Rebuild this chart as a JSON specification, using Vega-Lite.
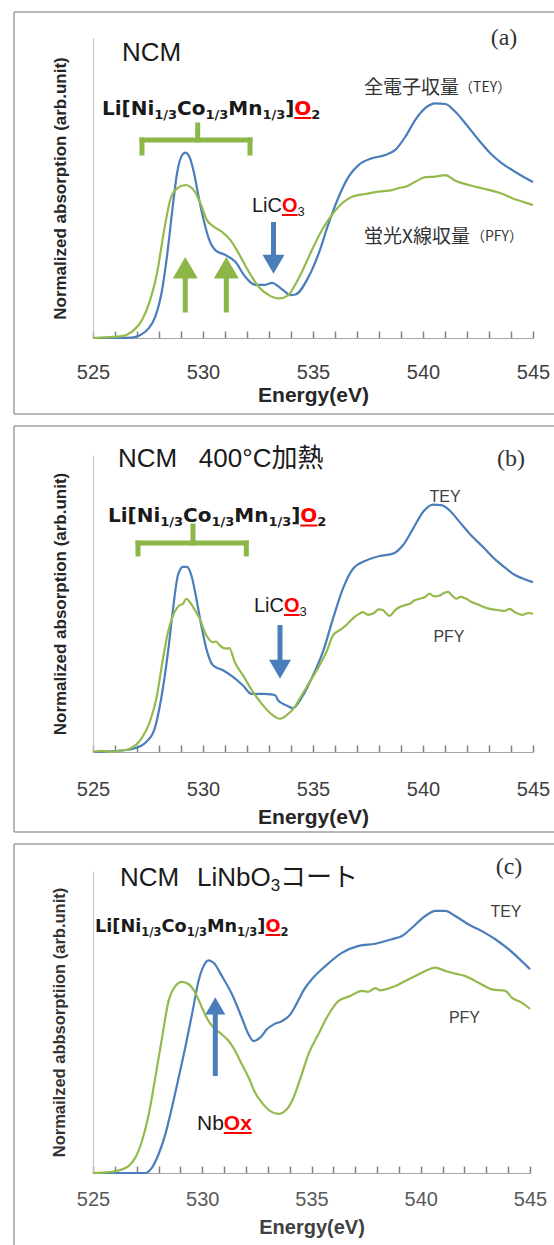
{
"$schema":"https://vega.github.io/schema/vega-lite/v6.json",
"padding":{"left":13,"top":11,"right":0,"bottom":0},
"spacing":10,
"config":{"view":{"stroke":null},"axis":{"grid":false}},
"resolve":{"scale":{"x":"independent","y":"independent","color":"independent"}},
"datasets":{
"ca":[
{"s":"TEY","E":525,"v":0},{"s":"TEY","E":526,"v":0},{"s":"TEY","E":526.77,"v":0.001},{"s":"TEY","E":527.15,"v":0.01},{"s":"TEY","E":527.53,"v":0.032},{"s":"TEY","E":527.83,"v":0.071},{"s":"TEY","E":528.14,"v":0.16},{"s":"TEY","E":528.36,"v":0.271},{"s":"TEY","E":528.59,"v":0.416},{"s":"TEY","E":528.82,"v":0.549},{"s":"TEY","E":529.05,"v":0.61},{"s":"TEY","E":529.2,"v":0.618},{"s":"TEY","E":529.38,"v":0.604},{"s":"TEY","E":529.58,"v":0.554},{"s":"TEY","E":529.8,"v":0.471},{"s":"TEY","E":530.03,"v":0.393},{"s":"TEY","E":530.26,"v":0.332},{"s":"TEY","E":530.56,"v":0.293},{"s":"TEY","E":531.01,"v":0.277},{"s":"TEY","E":531.47,"v":0.254},{"s":"TEY","E":531.92,"v":0.204},{"s":"TEY","E":532.38,"v":0.177},{"s":"TEY","E":532.83,"v":0.177},{"s":"TEY","E":533.14,"v":0.184},{"s":"TEY","E":533.44,"v":0.171},{"s":"TEY","E":533.74,"v":0.154},{"s":"TEY","E":533.95,"v":0.143},{"s":"TEY","E":534.2,"v":0.145},{"s":"TEY","E":534.8,"v":0.204},{"s":"TEY","E":535.26,"v":0.282},{"s":"TEY","E":535.71,"v":0.382},{"s":"TEY","E":536.17,"v":0.471},{"s":"TEY","E":536.62,"v":0.538},{"s":"TEY","E":537.08,"v":0.577},{"s":"TEY","E":537.68,"v":0.599},{"s":"TEY","E":538.29,"v":0.61},{"s":"TEY","E":538.74,"v":0.627},{"s":"TEY","E":539.2,"v":0.671},{"s":"TEY","E":539.65,"v":0.727},{"s":"TEY","E":540.1,"v":0.766},{"s":"TEY","E":540.56,"v":0.782},{"s":"TEY","E":541.02,"v":0.78},{"s":"TEY","E":541.47,"v":0.754},{"s":"TEY","E":541.92,"v":0.716},{"s":"TEY","E":542.53,"v":0.66},{"s":"TEY","E":543.14,"v":0.61},{"s":"TEY","E":543.59,"v":0.582},{"s":"TEY","E":544.05,"v":0.56},{"s":"TEY","E":544.5,"v":0.54},{"s":"TEY","E":545,"v":0.52},
{"s":"PFY","E":525,"v":0},{"s":"PFY","E":525.5,"v":0.002},{"s":"PFY","E":526.32,"v":0.006},{"s":"PFY","E":526.77,"v":0.021},{"s":"PFY","E":527.23,"v":0.06},{"s":"PFY","E":527.6,"v":0.127},{"s":"PFY","E":527.91,"v":0.216},{"s":"PFY","E":528.21,"v":0.349},{"s":"PFY","E":528.51,"v":0.46},{"s":"PFY","E":528.82,"v":0.499},{"s":"PFY","E":529.2,"v":0.51},{"s":"PFY","E":529.58,"v":0.493},{"s":"PFY","E":529.88,"v":0.449},{"s":"PFY","E":530.18,"v":0.393},{"s":"PFY","E":530.49,"v":0.371},{"s":"PFY","E":530.86,"v":0.354},{"s":"PFY","E":531.24,"v":0.327},{"s":"PFY","E":531.62,"v":0.282},{"s":"PFY","E":532.08,"v":0.221},{"s":"PFY","E":532.53,"v":0.171},{"s":"PFY","E":532.99,"v":0.143},{"s":"PFY","E":533.44,"v":0.132},{"s":"PFY","E":533.9,"v":0.143},{"s":"PFY","E":534.05,"v":0.16},{"s":"PFY","E":534.5,"v":0.221},{"s":"PFY","E":534.95,"v":0.293},{"s":"PFY","E":535.41,"v":0.36},{"s":"PFY","E":535.86,"v":0.41},{"s":"PFY","E":536.32,"v":0.449},{"s":"PFY","E":536.77,"v":0.471},{"s":"PFY","E":537.38,"v":0.48},{"s":"PFY","E":537.99,"v":0.488},{"s":"PFY","E":538.59,"v":0.493},{"s":"PFY","E":538.9,"v":0.5},{"s":"PFY","E":539.2,"v":0.504},{"s":"PFY","E":539.65,"v":0.521},{"s":"PFY","E":540.1,"v":0.536},{"s":"PFY","E":540.56,"v":0.538},{"s":"PFY","E":541.02,"v":0.543},{"s":"PFY","E":541.47,"v":0.524},{"s":"PFY","E":542.08,"v":0.51},{"s":"PFY","E":542.68,"v":0.499},{"s":"PFY","E":543.29,"v":0.488},{"s":"PFY","E":543.74,"v":0.477},{"s":"PFY","E":544.05,"v":0.466},{"s":"PFY","E":544.5,"v":0.455},{"s":"PFY","E":545,"v":0.443}
],
"cb":[
{"s":"TEY","E":525,"v":0},{"s":"TEY","E":526,"v":0.003},{"s":"TEY","E":526.82,"v":0.011},{"s":"TEY","E":527.42,"v":0.034},{"s":"TEY","E":527.8,"v":0.078},{"s":"TEY","E":528.1,"v":0.18},{"s":"TEY","E":528.41,"v":0.337},{"s":"TEY","E":528.64,"v":0.483},{"s":"TEY","E":528.86,"v":0.595},{"s":"TEY","E":529.09,"v":0.623},{"s":"TEY","E":529.27,"v":0.623},{"s":"TEY","E":529.47,"v":0.595},{"s":"TEY","E":529.7,"v":0.516},{"s":"TEY","E":529.92,"v":0.427},{"s":"TEY","E":530.15,"v":0.348},{"s":"TEY","E":530.45,"v":0.292},{"s":"TEY","E":530.91,"v":0.275},{"s":"TEY","E":531.36,"v":0.253},{"s":"TEY","E":531.82,"v":0.224},{"s":"TEY","E":532.2,"v":0.196},{"s":"TEY","E":532.73,"v":0.196},{"s":"TEY","E":533.18,"v":0.193},{"s":"TEY","E":533.3,"v":0.19},{"s":"TEY","E":533.41,"v":0.174},{"s":"TEY","E":533.79,"v":0.157},{"s":"TEY","E":534.09,"v":0.148},{"s":"TEY","E":534.55,"v":0.191},{"s":"TEY","E":535,"v":0.258},{"s":"TEY","E":535.45,"v":0.337},{"s":"TEY","E":535.91,"v":0.449},{"s":"TEY","E":536.36,"v":0.55},{"s":"TEY","E":536.82,"v":0.617},{"s":"TEY","E":537.42,"v":0.645},{"s":"TEY","E":538.03,"v":0.66},{"s":"TEY","E":538.64,"v":0.668},{"s":"TEY","E":539.09,"v":0.696},{"s":"TEY","E":539.55,"v":0.752},{"s":"TEY","E":540,"v":0.808},{"s":"TEY","E":540.45,"v":0.833},{"s":"TEY","E":540.83,"v":0.831},{"s":"TEY","E":541.2,"v":0.814},{"s":"TEY","E":541.67,"v":0.774},{"s":"TEY","E":542.12,"v":0.735},{"s":"TEY","E":542.73,"v":0.69},{"s":"TEY","E":543.33,"v":0.645},{"s":"TEY","E":543.79,"v":0.617},{"s":"TEY","E":544.09,"v":0.6},{"s":"TEY","E":544.5,"v":0.585},{"s":"TEY","E":545,"v":0.572},
{"s":"PFY","E":525,"v":0},{"s":"PFY","E":525.4,"v":0.004},{"s":"PFY","E":525.8,"v":0},{"s":"PFY","E":526.06,"v":0.003},{"s":"PFY","E":526.4,"v":0.006},{"s":"PFY","E":526.67,"v":0.011},{"s":"PFY","E":527.2,"v":0.045},{"s":"PFY","E":527.58,"v":0.101},{"s":"PFY","E":527.88,"v":0.18},{"s":"PFY","E":528.18,"v":0.314},{"s":"PFY","E":528.41,"v":0.404},{"s":"PFY","E":528.64,"v":0.46},{"s":"PFY","E":528.94,"v":0.494},{"s":"PFY","E":529.1,"v":0.5},{"s":"PFY","E":529.24,"v":0.516},{"s":"PFY","E":529.4,"v":0.505},{"s":"PFY","E":529.55,"v":0.488},{"s":"PFY","E":529.85,"v":0.449},{"s":"PFY","E":530.15,"v":0.393},{"s":"PFY","E":530.45,"v":0.37},{"s":"PFY","E":530.6,"v":0.372},{"s":"PFY","E":530.76,"v":0.359},{"s":"PFY","E":531.06,"v":0.348},{"s":"PFY","E":531.2,"v":0.35},{"s":"PFY","E":531.44,"v":0.303},{"s":"PFY","E":531.82,"v":0.258},{"s":"PFY","E":532.27,"v":0.202},{"s":"PFY","E":532.73,"v":0.157},{"s":"PFY","E":533.18,"v":0.123},{"s":"PFY","E":533.49,"v":0.112},{"s":"PFY","E":533.79,"v":0.123},{"s":"PFY","E":534.17,"v":0.152},{"s":"PFY","E":534.4,"v":0.18},{"s":"PFY","E":534.85,"v":0.236},{"s":"PFY","E":535.3,"v":0.292},{"s":"PFY","E":535.61,"v":0.337},{"s":"PFY","E":535.91,"v":0.393},{"s":"PFY","E":536.21,"v":0.41},{"s":"PFY","E":536.51,"v":0.427},{"s":"PFY","E":536.89,"v":0.455},{"s":"PFY","E":537.1,"v":0.465},{"s":"PFY","E":537.27,"v":0.471},{"s":"PFY","E":537.5,"v":0.462},{"s":"PFY","E":537.73,"v":0.466},{"s":"PFY","E":538,"v":0.48},{"s":"PFY","E":538.18,"v":0.477},{"s":"PFY","E":538.49,"v":0.458},{"s":"PFY","E":538.7,"v":0.475},{"s":"PFY","E":538.94,"v":0.488},{"s":"PFY","E":539.2,"v":0.495},{"s":"PFY","E":539.4,"v":0.499},{"s":"PFY","E":539.6,"v":0.51},{"s":"PFY","E":539.85,"v":0.516},{"s":"PFY","E":540.1,"v":0.522},{"s":"PFY","E":540.3,"v":0.533},{"s":"PFY","E":540.5,"v":0.524},{"s":"PFY","E":540.76,"v":0.527},{"s":"PFY","E":540.95,"v":0.535},{"s":"PFY","E":541.14,"v":0.539},{"s":"PFY","E":541.3,"v":0.528},{"s":"PFY","E":541.52,"v":0.516},{"s":"PFY","E":541.7,"v":0.522},{"s":"PFY","E":541.97,"v":0.516},{"s":"PFY","E":542.2,"v":0.505},{"s":"PFY","E":542.42,"v":0.499},{"s":"PFY","E":542.7,"v":0.49},{"s":"PFY","E":543.03,"v":0.482},{"s":"PFY","E":543.49,"v":0.477},{"s":"PFY","E":543.7,"v":0.475},{"s":"PFY","E":543.94,"v":0.482},{"s":"PFY","E":544.2,"v":0.47},{"s":"PFY","E":544.5,"v":0.462},{"s":"PFY","E":544.8,"v":0.468},{"s":"PFY","E":545,"v":0.465}
],
"cc":[
{"s":"TEY","E":525,"v":0},{"s":"TEY","E":527.39,"v":0},{"s":"TEY","E":527.7,"v":0.018},{"s":"TEY","E":528,"v":0.062},{"s":"TEY","E":528.31,"v":0.128},{"s":"TEY","E":528.61,"v":0.216},{"s":"TEY","E":528.92,"v":0.316},{"s":"TEY","E":529.22,"v":0.415},{"s":"TEY","E":529.53,"v":0.525},{"s":"TEY","E":529.83,"v":0.636},{"s":"TEY","E":530.06,"v":0.685},{"s":"TEY","E":530.29,"v":0.704},{"s":"TEY","E":530.52,"v":0.696},{"s":"TEY","E":530.9,"v":0.652},{"s":"TEY","E":531.36,"v":0.592},{"s":"TEY","E":531.81,"v":0.514},{"s":"TEY","E":532.12,"v":0.459},{"s":"TEY","E":532.35,"v":0.437},{"s":"TEY","E":532.65,"v":0.448},{"s":"TEY","E":532.96,"v":0.476},{"s":"TEY","E":533.27,"v":0.492},{"s":"TEY","E":533.65,"v":0.503},{"s":"TEY","E":534.03,"v":0.525},{"s":"TEY","E":534.35,"v":0.565},{"s":"TEY","E":534.7,"v":0.612},{"s":"TEY","E":535.02,"v":0.642},{"s":"TEY","E":535.63,"v":0.685},{"s":"TEY","E":536.39,"v":0.729},{"s":"TEY","E":537.16,"v":0.752},{"s":"TEY","E":537.92,"v":0.759},{"s":"TEY","E":538.68,"v":0.774},{"s":"TEY","E":539.14,"v":0.785},{"s":"TEY","E":539.6,"v":0.812},{"s":"TEY","E":540.21,"v":0.851},{"s":"TEY","E":540.67,"v":0.868},{"s":"TEY","E":541.12,"v":0.868},{"s":"TEY","E":541.58,"v":0.851},{"s":"TEY","E":542.19,"v":0.823},{"s":"TEY","E":542.8,"v":0.801},{"s":"TEY","E":543.41,"v":0.774},{"s":"TEY","E":544.02,"v":0.741},{"s":"TEY","E":544.5,"v":0.71},{"s":"TEY","E":545,"v":0.675},
{"s":"PFY","E":525,"v":0},{"s":"PFY","E":525.72,"v":0.003},{"s":"PFY","E":526.33,"v":0.012},{"s":"PFY","E":526.63,"v":0.023},{"s":"PFY","E":526.94,"v":0.051},{"s":"PFY","E":527.24,"v":0.106},{"s":"PFY","E":527.55,"v":0.194},{"s":"PFY","E":527.85,"v":0.316},{"s":"PFY","E":528.16,"v":0.448},{"s":"PFY","E":528.46,"v":0.57},{"s":"PFY","E":528.77,"v":0.619},{"s":"PFY","E":529.07,"v":0.633},{"s":"PFY","E":529.38,"v":0.625},{"s":"PFY","E":529.68,"v":0.597},{"s":"PFY","E":529.99,"v":0.547},{"s":"PFY","E":530.29,"v":0.503},{"s":"PFY","E":530.6,"v":0.476},{"s":"PFY","E":530.9,"v":0.459},{"s":"PFY","E":531.21,"v":0.437},{"s":"PFY","E":531.51,"v":0.404},{"s":"PFY","E":531.81,"v":0.36},{"s":"PFY","E":532.12,"v":0.316},{"s":"PFY","E":532.42,"v":0.266},{"s":"PFY","E":532.73,"v":0.233},{"s":"PFY","E":533.11,"v":0.205},{"s":"PFY","E":533.49,"v":0.196},{"s":"PFY","E":533.87,"v":0.211},{"s":"PFY","E":534.15,"v":0.245},{"s":"PFY","E":534.5,"v":0.315},{"s":"PFY","E":534.87,"v":0.395},{"s":"PFY","E":535.33,"v":0.462},{"s":"PFY","E":535.78,"v":0.525},{"s":"PFY","E":536.24,"v":0.57},{"s":"PFY","E":536.77,"v":0.586},{"s":"PFY","E":537.31,"v":0.603},{"s":"PFY","E":537.6,"v":0.6},{"s":"PFY","E":537.92,"v":0.612},{"s":"PFY","E":538.15,"v":0.605},{"s":"PFY","E":538.38,"v":0.608},{"s":"PFY","E":538.83,"v":0.619},{"s":"PFY","E":539.29,"v":0.636},{"s":"PFY","E":539.75,"v":0.652},{"s":"PFY","E":540.21,"v":0.669},{"s":"PFY","E":540.67,"v":0.68},{"s":"PFY","E":541.12,"v":0.669},{"s":"PFY","E":541.58,"v":0.66},{"s":"PFY","E":542.04,"v":0.652},{"s":"PFY","E":542.65,"v":0.63},{"s":"PFY","E":543.26,"v":0.608},{"s":"PFY","E":543.87,"v":0.603},{"s":"PFY","E":544.18,"v":0.58},{"s":"PFY","E":544.6,"v":0.565},{"s":"PFY","E":545,"v":0.543}
],
"aa":[
{"k":"title","E":526.32,"v":0.95,"t":"NCM"},
{"k":"tag","E":543.68,"v":1.0,"t":"(a)"},
{"k":"jp","E":537.32,"v":0.833,"t":"全電子収量"},
{"k":"jps","E":541.64,"v":0.833,"t":"（TEY）"},
{"k":"jp","E":537.32,"v":0.337,"t":"蛍光X線収量"},
{"k":"jps","E":542.18,"v":0.337,"t":"（PFY）"},
{"k":"fm","E":525.409,"v":0.7433,"t":"Li[Ni"},
{"k":"fs","E":527.786,"v":0.73,"t":"1/3"},
{"k":"fm","E":528.823,"v":0.7433,"t":"Co"},
{"k":"fs","E":530.114,"v":0.73,"t":"1/3"},
{"k":"fm","E":531.15,"v":0.7433,"t":"Mn"},
{"k":"fs","E":532.7,"v":0.73,"t":"1/3"},
{"k":"fm","E":533.736,"v":0.7433,"t":"]"},
{"k":"fr","E":534.15,"v":0.7433,"t":"O"},
{"k":"fs","E":534.923,"v":0.73,"t":"2"},
{"k":"lm","E":532.227,"v":0.42,"t":"LiC"},
{"k":"lr","E":533.591,"v":0.42,"t":"O"},
{"k":"ls","E":534.3,"v":0.4067,"t":"3"},
{"k":"red","E":534.15,"E2":534.923,"v":0.7333,"v2":0.7333},
{"k":"red","E":533.591,"E2":534.3,"v":0.41,"v2":0.41},
{"k":"green","E":527.227,"E2":532.136,"v":0.66,"v2":0.66},
{"k":"green","E":527.227,"E2":527.227,"v":0.66,"v2":0.6167},
{"k":"green","E":532.136,"E2":532.136,"v":0.66,"v2":0.6167},
{"k":"green","E":529.759,"E2":529.759,"v":0.66,"v2":0.71},
{"k":"green","E":529.195,"E2":529.195,"v":0.0933,"v2":0.22},
{"k":"green","E":531.059,"E2":531.059,"v":0.0933,"v2":0.22},
{"k":"blue","E":533.205,"E2":533.205,"v":0.3867,"v2":0.2567},
{"k":"box","E":521.409,"E2":545.955,"v":1.0867,"v2":1.0867},
{"k":"box","E":521.409,"E2":521.409,"v":1.0867,"v2":-0.2533},
{"k":"box","E":521.409,"E2":545.955,"v":-0.2533,"v2":-0.2533},
{"k":"gup","E":529.195,"v":0.2343},
{"k":"gup","E":531.059,"v":0.2343},
{"k":"bdown","E":533.205,"v":0.2457}
],
"ab":[
{"k":"title","E":526.136,"v":0.9865,"t":"NCM\u00a0\u00a0\u00a0400°C加熱"},
{"k":"tag","E":544.0,"v":0.9865,"t":"(b)"},
{"k":"small","E":541.0,"v":0.8586,"t":"TEY"},
{"k":"small","E":541.18,"v":0.3872,"t":"PFY"},
{"k":"fm","E":525.682,"v":0.7734,"t":"Li[Ni"},
{"k":"fs","E":528.059,"v":0.7593,"t":"1/3"},
{"k":"fm","E":529.095,"v":0.7734,"t":"Co"},
{"k":"fs","E":530.386,"v":0.7593,"t":"1/3"},
{"k":"fm","E":531.423,"v":0.7734,"t":"Mn"},
{"k":"fs","E":532.973,"v":0.7593,"t":"1/3"},
{"k":"fm","E":534.009,"v":0.7734,"t":"]"},
{"k":"fr","E":534.423,"v":0.7734,"t":"O"},
{"k":"fs","E":535.195,"v":0.7593,"t":"2"},
{"k":"lm","E":532.318,"v":0.4714,"t":"LiC"},
{"k":"lr","E":533.682,"v":0.4714,"t":"O"},
{"k":"ls","E":534.391,"v":0.4579,"t":"3"},
{"k":"red","E":534.423,"E2":535.195,"v":0.7626,"v2":0.7626},
{"k":"red","E":533.682,"E2":534.391,"v":0.4613,"v2":0.4613},
{"k":"green","E":527.045,"E2":531.968,"v":0.7037,"v2":0.7037},
{"k":"green","E":527.045,"E2":527.045,"v":0.7037,"v2":0.6667},
{"k":"green","E":531.968,"E2":531.968,"v":0.7037,"v2":0.6667},
{"k":"green","E":529.545,"E2":529.545,"v":0.7037,"v2":0.761},
{"k":"blue","E":533.5,"E2":533.5,"v":0.4276,"v2":0.2896},
{"k":"box","E":521.409,"E2":545.955,"v":1.0976,"v2":1.0976},
{"k":"box","E":521.409,"E2":521.409,"v":1.0976,"v2":-0.2694},
{"k":"box","E":521.409,"E2":545.955,"v":-0.2694,"v2":-0.2694},
{"k":"bdown","E":533.5,"v":0.2785}
],
"ac":[
{"k":"titleb","E":526.236,"v":0.9487,"t":"NCM"},
{"k":"titleb","E":529.76,"v":0.9487,"t":"LiNbO"},
{"k":"titles","E":533.133,"v":0.9338,"t":"3"},
{"k":"titleb","E":533.558,"v":0.9487,"t":"コート"},
{"k":"tag","E":544.04,"v":1.0132,"t":"(c)"},
{"k":"small","E":543.9,"v":0.8642,"t":"TEY"},
{"k":"small","E":542.0,"v":0.5116,"t":"PFY"},
{"k":"fm2","E":525.092,"v":0.7964,"t":"Li[Ni"},
{"k":"fs2","E":527.211,"v":0.7848,"t":"1/3"},
{"k":"fm2","E":528.135,"v":0.7964,"t":"Co"},
{"k":"fs2","E":529.288,"v":0.7848,"t":"1/3"},
{"k":"fm2","E":530.213,"v":0.7964,"t":"Mn"},
{"k":"fs2","E":531.595,"v":0.7848,"t":"1/3"},
{"k":"fm2","E":532.519,"v":0.7964,"t":"]"},
{"k":"fr2","E":532.89,"v":0.7964,"t":"O"},
{"k":"fs2","E":533.577,"v":0.7848,"t":"2"},
{"k":"nm","E":529.76,"v":0.144,"t":"Nb"},
{"k":"nr","E":530.986,"v":0.144,"t":"Ox"},
{"k":"red","E":532.89,"E2":533.577,"v":0.788,"v2":0.788},
{"k":"red","E":530.986,"E2":532.268,"v":0.1325,"v2":0.1325},
{"k":"blue","E":530.597,"E2":530.597,"v":0.3212,"v2":0.543},
{"k":"box","E":521.384,"E2":546.098,"v":1.0894,"v2":1.0894},
{"k":"box","E":521.384,"E2":521.384,"v":1.0894,"v2":-0.2384},
{"k":"bup","E":530.597,"v":0.5536}
]
},
"vconcat":[
{
"width":440,"height":300,
"resolve":{"axis":{"x":"independent"}},
"encoding":{
"y":{"field":"v","type":"quantitative","scale":{"domain":[0,1],"nice":false,"zero":false},"axis":{"ticks":false,"labels":false,"domainColor":"#bfbfbf","title":"Normalized absorption (arb.unit)","titleFont":"Liberation Sans","titleFontSize":17,"titleFontWeight":"bold","titleColor":"#262626","titlePadding":24}}
},
"layer":[
{"data":{"name":"aa"},"transform":[{"filter":"datum.k === 'box'"}],"mark":{"type":"rule","color":"#a0a0a0","strokeWidth":1.5},"encoding":{"x":{"field":"E","type":"quantitative","scale":{"domain":[525,545],"nice":false,"zero":false},"axis":{"orient":"bottom","values":[525,526,527,528,529,530,531,532,533,534,535,536,537,538,539,540,541,542,543,544,545],"domain":false,"labels":false,"title":null,"ticks":true,"tickSize":7,"tickWidth":1.5,"tickColor":"#808080","offset":-7}},"x2":{"field":"E2"},"y2":{"field":"v2"}}},
{
"encoding":{"x":{"field":"E","type":"quantitative","scale":{"domain":[525,545],"nice":false,"zero":false},"axis":{"orient":"bottom","values":[525,530,535,540,545],"ticks":false,"domainColor":"#a6a6a6","labelFont":"Liberation Sans","labelFontSize":20,"labelColor":"#404040","labelPadding":24,"labelFlush":false,"title":"Energy(eV)","titleFont":"Liberation Sans","titleFontSize":21,"titleFontWeight":"bold","titleColor":"#262626","titlePadding":2}}},
"layer":[
{"data":{"name":"ca"},"mark":{"type":"line","interpolate":"monotone","strokeWidth":2.2},"encoding":{"color":{"field":"s","type":"nominal","scale":{"domain":["TEY","PFY"],"range":["#4A7EBB","#94BA4E"]},"legend":null}}},
{"data":{"name":"aa"},"transform":[{"filter":"datum.k === 'green'"}],"mark":{"type":"rule","color":"#8DB649","strokeWidth":5,"strokeCap":"square"},"encoding":{"x2":{"field":"E2"},"y2":{"field":"v2"}}},
{"data":{"name":"aa"},"transform":[{"filter":"datum.k === 'blue'"}],"mark":{"type":"rule","color":"#4A7EBB","strokeWidth":5},"encoding":{"x2":{"field":"E2"},"y2":{"field":"v2"}}},
{"data":{"name":"aa"},"transform":[{"filter":"datum.k === 'red'"}],"mark":{"type":"rule","color":"#FF0000","strokeWidth":2},"encoding":{"x2":{"field":"E2"},"y2":{"field":"v2"}}},
{"data":{"name":"aa"},"transform":[{"filter":"datum.k === 'gup'"}],"mark":{"type":"point","shape":"triangle-up","filled":true,"size":625,"color":"#8DB649","opacity":1,"strokeWidth":0}},
{"data":{"name":"aa"},"transform":[{"filter":"datum.k === 'bdown'"}],"mark":{"type":"point","shape":"triangle-down","filled":true,"size":484,"color":"#4A7EBB","opacity":1,"strokeWidth":0}},
{"data":{"name":"aa"},"transform":[{"filter":"datum.k === 'title'"}],"mark":{"type":"text","align":"left","baseline":"middle","font":"Liberation Sans, Noto Sans CJK JP","fontSize":26,"color":"#1a1a1a"},"encoding":{"text":{"field":"t"}}},
{"data":{"name":"aa"},"transform":[{"filter":"datum.k === 'tag'"}],"mark":{"type":"text","align":"center","baseline":"middle","font":"Liberation Serif","fontSize":24,"color":"#333333"},"encoding":{"text":{"field":"t"}}},
{"data":{"name":"aa"},"transform":[{"filter":"datum.k === 'jp'"}],"mark":{"type":"text","align":"left","baseline":"middle","font":"Noto Sans CJK JP","fontSize":19,"color":"#333333"},"encoding":{"text":{"field":"t"}}},
{"data":{"name":"aa"},"transform":[{"filter":"datum.k === 'jps'"}],"mark":{"type":"text","align":"left","baseline":"middle","font":"Noto Sans CJK JP","fontSize":14,"color":"#333333"},"encoding":{"text":{"field":"t"}}},
{"data":{"name":"aa"},"transform":[{"filter":"datum.k === 'fm'"}],"mark":{"type":"text","align":"left","baseline":"alphabetic","font":"DejaVu Sans","fontWeight":"bold","fontSize":20,"color":"#1a1a1a"},"encoding":{"text":{"field":"t"}}},
{"data":{"name":"aa"},"transform":[{"filter":"datum.k === 'fs'"}],"mark":{"type":"text","align":"left","baseline":"alphabetic","font":"DejaVu Sans","fontWeight":"bold","fontSize":13,"color":"#1a1a1a"},"encoding":{"text":{"field":"t"}}},
{"data":{"name":"aa"},"transform":[{"filter":"datum.k === 'fr'"}],"mark":{"type":"text","align":"left","baseline":"alphabetic","font":"DejaVu Sans","fontWeight":"bold","fontSize":20,"color":"#FF0000"},"encoding":{"text":{"field":"t"}}},
{"data":{"name":"aa"},"transform":[{"filter":"datum.k === 'lm'"}],"mark":{"type":"text","align":"left","baseline":"alphabetic","font":"Liberation Sans","fontSize":20,"color":"#1a1a1a"},"encoding":{"text":{"field":"t"}}},
{"data":{"name":"aa"},"transform":[{"filter":"datum.k === 'lr'"}],"mark":{"type":"text","align":"left","baseline":"alphabetic","font":"Liberation Sans","fontWeight":"bold","fontSize":20,"color":"#FF0000"},"encoding":{"text":{"field":"t"}}},
{"data":{"name":"aa"},"transform":[{"filter":"datum.k === 'ls'"}],"mark":{"type":"text","align":"left","baseline":"alphabetic","font":"Liberation Sans","fontSize":13,"color":"#1a1a1a"},"encoding":{"text":{"field":"t"}}}
]
}
]
},
{
"width":440,"height":297,
"resolve":{"axis":{"x":"independent"}},
"encoding":{
"y":{"field":"v","type":"quantitative","scale":{"domain":[0,1],"nice":false,"zero":false},"axis":{"ticks":false,"labels":false,"domainColor":"#bfbfbf","title":"Normalized absorption (arb.unit)","titleFont":"Liberation Sans","titleFontSize":17,"titleFontWeight":"bold","titleColor":"#262626","titlePadding":24}}
},
"layer":[
{"data":{"name":"ab"},"transform":[{"filter":"datum.k === 'box'"}],"mark":{"type":"rule","color":"#a0a0a0","strokeWidth":1.5},"encoding":{"x":{"field":"E","type":"quantitative","scale":{"domain":[525,545],"nice":false,"zero":false},"axis":{"orient":"bottom","values":[525,526,527,528,529,530,531,532,533,534,535,536,537,538,539,540,541,542,543,544,545],"domain":false,"labels":false,"title":null,"ticks":true,"tickSize":7,"tickWidth":1.5,"tickColor":"#808080","offset":-7}},"x2":{"field":"E2"},"y2":{"field":"v2"}}},
{
"encoding":{"x":{"field":"E","type":"quantitative","scale":{"domain":[525,545],"nice":false,"zero":false},"axis":{"orient":"bottom","values":[525,530,535,540,545],"ticks":false,"domainColor":"#a6a6a6","labelFont":"Liberation Sans","labelFontSize":20,"labelColor":"#404040","labelPadding":27,"labelFlush":false,"title":"Energy(eV)","titleFont":"Liberation Sans","titleFontSize":21,"titleFontWeight":"bold","titleColor":"#262626","titlePadding":7}}},
"layer":[
{"data":{"name":"cb"},"mark":{"type":"line","interpolate":"monotone","strokeWidth":2.2},"encoding":{"color":{"field":"s","type":"nominal","scale":{"domain":["TEY","PFY"],"range":["#4A7EBB","#94BA4E"]},"legend":null}}},
{"data":{"name":"ab"},"transform":[{"filter":"datum.k === 'green'"}],"mark":{"type":"rule","color":"#8DB649","strokeWidth":5,"strokeCap":"square"},"encoding":{"x2":{"field":"E2"},"y2":{"field":"v2"}}},
{"data":{"name":"ab"},"transform":[{"filter":"datum.k === 'blue'"}],"mark":{"type":"rule","color":"#4A7EBB","strokeWidth":5},"encoding":{"x2":{"field":"E2"},"y2":{"field":"v2"}}},
{"data":{"name":"ab"},"transform":[{"filter":"datum.k === 'red'"}],"mark":{"type":"rule","color":"#FF0000","strokeWidth":2},"encoding":{"x2":{"field":"E2"},"y2":{"field":"v2"}}},
{"data":{"name":"ab"},"transform":[{"filter":"datum.k === 'bdown'"}],"mark":{"type":"point","shape":"triangle-down","filled":true,"size":484,"color":"#4A7EBB","opacity":1,"strokeWidth":0}},
{"data":{"name":"ab"},"transform":[{"filter":"datum.k === 'title'"}],"mark":{"type":"text","align":"left","baseline":"middle","font":"Liberation Sans, Noto Sans CJK JP","fontSize":26,"color":"#1a1a1a"},"encoding":{"text":{"field":"t"}}},
{"data":{"name":"ab"},"transform":[{"filter":"datum.k === 'tag'"}],"mark":{"type":"text","align":"center","baseline":"middle","font":"Liberation Serif","fontSize":24,"color":"#333333"},"encoding":{"text":{"field":"t"}}},
{"data":{"name":"ab"},"transform":[{"filter":"datum.k === 'small'"}],"mark":{"type":"text","align":"center","baseline":"middle","font":"Liberation Sans","fontSize":16,"color":"#404040"},"encoding":{"text":{"field":"t"}}},
{"data":{"name":"ab"},"transform":[{"filter":"datum.k === 'fm'"}],"mark":{"type":"text","align":"left","baseline":"alphabetic","font":"DejaVu Sans","fontWeight":"bold","fontSize":20,"color":"#1a1a1a"},"encoding":{"text":{"field":"t"}}},
{"data":{"name":"ab"},"transform":[{"filter":"datum.k === 'fs'"}],"mark":{"type":"text","align":"left","baseline":"alphabetic","font":"DejaVu Sans","fontWeight":"bold","fontSize":13,"color":"#1a1a1a"},"encoding":{"text":{"field":"t"}}},
{"data":{"name":"ab"},"transform":[{"filter":"datum.k === 'fr'"}],"mark":{"type":"text","align":"left","baseline":"alphabetic","font":"DejaVu Sans","fontWeight":"bold","fontSize":20,"color":"#FF0000"},"encoding":{"text":{"field":"t"}}},
{"data":{"name":"ab"},"transform":[{"filter":"datum.k === 'lm'"}],"mark":{"type":"text","align":"left","baseline":"alphabetic","font":"Liberation Sans","fontSize":20,"color":"#1a1a1a"},"encoding":{"text":{"field":"t"}}},
{"data":{"name":"ab"},"transform":[{"filter":"datum.k === 'lr'"}],"mark":{"type":"text","align":"left","baseline":"alphabetic","font":"Liberation Sans","fontWeight":"bold","fontSize":20,"color":"#FF0000"},"encoding":{"text":{"field":"t"}}},
{"data":{"name":"ab"},"transform":[{"filter":"datum.k === 'ls'"}],"mark":{"type":"text","align":"left","baseline":"alphabetic","font":"Liberation Sans","fontSize":13,"color":"#1a1a1a"},"encoding":{"text":{"field":"t"}}}
]
}
]
},
{
"width":437,"height":302,
"resolve":{"axis":{"x":"independent"}},
"encoding":{
"y":{"field":"v","type":"quantitative","scale":{"domain":[0,1],"nice":false,"zero":false},"axis":{"ticks":false,"labels":false,"domainColor":"#bfbfbf","title":"Normailzed abbsorptiion (arb.unit)","titleFont":"Liberation Sans","titleFontSize":16.5,"titleFontWeight":"bold","titleColor":"#333333","titlePadding":26}}
},
"layer":[
{"data":{"name":"ac"},"transform":[{"filter":"datum.k === 'box'"}],"mark":{"type":"rule","color":"#a0a0a0","strokeWidth":1.5},"encoding":{"x":{"field":"E","type":"quantitative","scale":{"domain":[525,545],"nice":false,"zero":false},"axis":{"orient":"bottom","values":[525,526,527,528,529,530,531,532,533,534,535,536,537,538,539,540,541,542,543,544,545],"domain":false,"labels":false,"title":null,"ticks":true,"tickSize":7,"tickWidth":1.5,"tickColor":"#808080","offset":-7}},"x2":{"field":"E2"},"y2":{"field":"v2"}}},
{
"encoding":{"x":{"field":"E","type":"quantitative","scale":{"domain":[525,545],"nice":false,"zero":false},"axis":{"orient":"bottom","values":[525,530,535,540,545],"ticks":false,"domainColor":"#a6a6a6","labelFont":"Liberation Sans","labelFontSize":20,"labelColor":"#595959","labelPadding":16,"labelFlush":false,"title":"Energy(eV)","titleFont":"Liberation Sans","titleFontSize":20,"titleFontWeight":"bold","titleColor":"#404040","titlePadding":8}}},
"layer":[
{"data":{"name":"cc"},"mark":{"type":"line","interpolate":"monotone","strokeWidth":2.2},"encoding":{"color":{"field":"s","type":"nominal","scale":{"domain":["TEY","PFY"],"range":["#4A7EBB","#94BA4E"]},"legend":null}}},
{"data":{"name":"ac"},"transform":[{"filter":"datum.k === 'blue'"}],"mark":{"type":"rule","color":"#4A7EBB","strokeWidth":5},"encoding":{"x2":{"field":"E2"},"y2":{"field":"v2"}}},
{"data":{"name":"ac"},"transform":[{"filter":"datum.k === 'red'"}],"mark":{"type":"rule","color":"#FF0000","strokeWidth":2},"encoding":{"x2":{"field":"E2"},"y2":{"field":"v2"}}},
{"data":{"name":"ac"},"transform":[{"filter":"datum.k === 'bup'"}],"mark":{"type":"point","shape":"triangle-up","filled":true,"size":400,"color":"#4A7EBB","opacity":1,"strokeWidth":0}},
{"data":{"name":"ac"},"transform":[{"filter":"datum.k === 'titleb'"}],"mark":{"type":"text","align":"left","baseline":"alphabetic","font":"Liberation Sans, Noto Sans CJK JP","fontSize":26,"color":"#1a1a1a"},"encoding":{"text":{"field":"t"}}},
{"data":{"name":"ac"},"transform":[{"filter":"datum.k === 'titles'"}],"mark":{"type":"text","align":"left","baseline":"alphabetic","font":"Liberation Sans","fontSize":17,"color":"#1a1a1a"},"encoding":{"text":{"field":"t"}}},
{"data":{"name":"ac"},"transform":[{"filter":"datum.k === 'tag'"}],"mark":{"type":"text","align":"center","baseline":"middle","font":"Liberation Serif","fontSize":24,"color":"#333333"},"encoding":{"text":{"field":"t"}}},
{"data":{"name":"ac"},"transform":[{"filter":"datum.k === 'small'"}],"mark":{"type":"text","align":"center","baseline":"middle","font":"Liberation Sans","fontSize":16,"color":"#404040"},"encoding":{"text":{"field":"t"}}},
{"data":{"name":"ac"},"transform":[{"filter":"datum.k === 'fm2'"}],"mark":{"type":"text","align":"left","baseline":"alphabetic","font":"DejaVu Sans","fontWeight":"bold","fontSize":17.7,"color":"#1a1a1a"},"encoding":{"text":{"field":"t"}}},
{"data":{"name":"ac"},"transform":[{"filter":"datum.k === 'fs2'"}],"mark":{"type":"text","align":"left","baseline":"alphabetic","font":"DejaVu Sans","fontWeight":"bold","fontSize":11.5,"color":"#1a1a1a"},"encoding":{"text":{"field":"t"}}},
{"data":{"name":"ac"},"transform":[{"filter":"datum.k === 'fr2'"}],"mark":{"type":"text","align":"left","baseline":"alphabetic","font":"DejaVu Sans","fontWeight":"bold","fontSize":17.7,"color":"#FF0000"},"encoding":{"text":{"field":"t"}}},
{"data":{"name":"ac"},"transform":[{"filter":"datum.k === 'nm'"}],"mark":{"type":"text","align":"left","baseline":"alphabetic","font":"Liberation Sans","fontSize":21,"color":"#1a1a1a"},"encoding":{"text":{"field":"t"}}},
{"data":{"name":"ac"},"transform":[{"filter":"datum.k === 'nr'"}],"mark":{"type":"text","align":"left","baseline":"alphabetic","font":"Liberation Sans","fontWeight":"bold","fontSize":21,"color":"#FF0000"},"encoding":{"text":{"field":"t"}}}
]
}
]
}
]
}
